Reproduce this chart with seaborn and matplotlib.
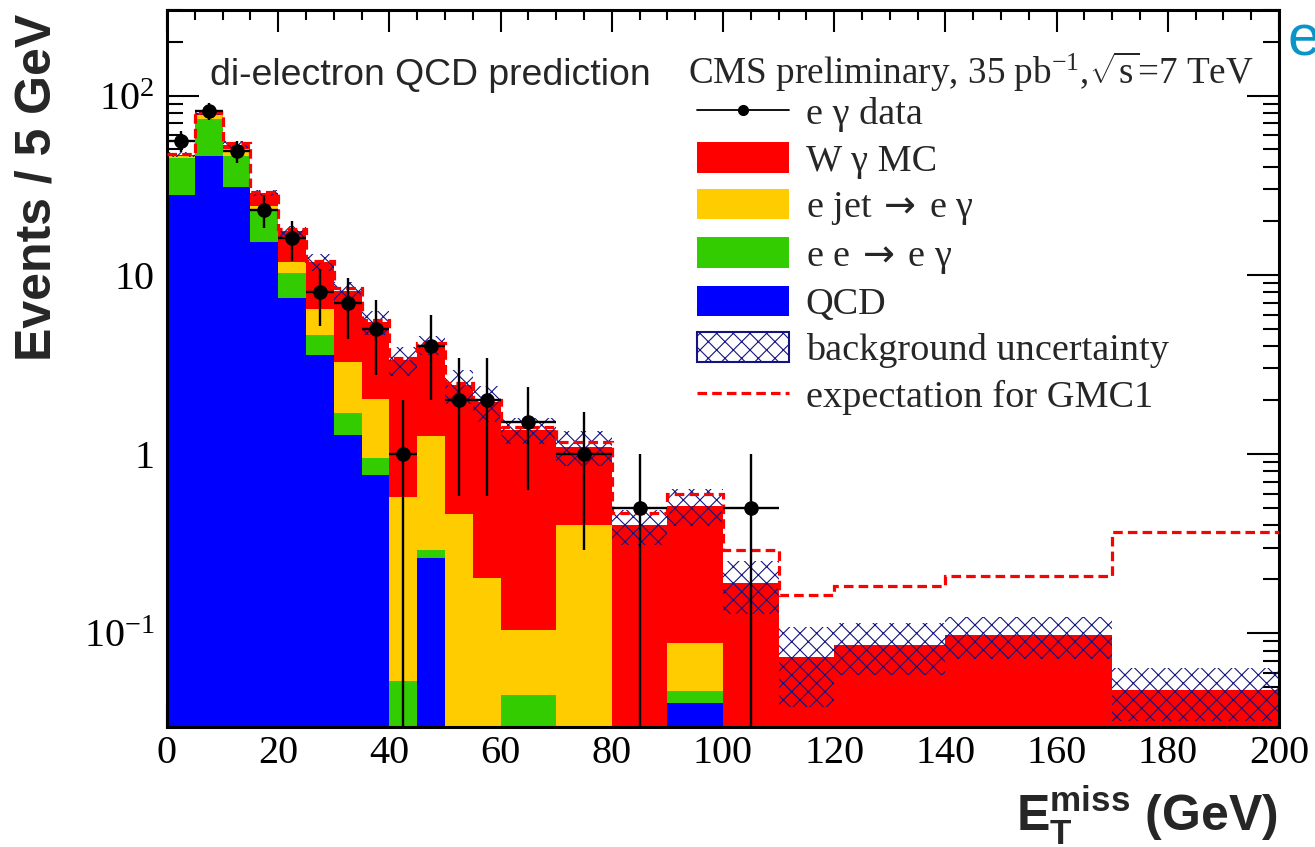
import numpy as np
import pandas as pd
import matplotlib
matplotlib.use("Agg")
import matplotlib.pyplot as plt
from matplotlib.patches import Patch
from matplotlib.lines import Line2D
from matplotlib.ticker import MultipleLocator, FixedLocator, FixedFormatter, LogLocator, NullFormatter
import seaborn as sns

# ---- binning (GeV) ----
edges = [0, 5, 10, 15, 20, 25, 30, 35, 40, 45, 50, 55, 60, 70, 80, 90, 100, 110, 120, 140, 170, 200]

# ---- background components, events / 5 GeV ----
qcd = [28, 46, 31, 15.2, 7.4, 3.56, 1.28, 0.76, 0, 0.264, 0, 0, 0, 0, 0, 0.041, 0, 0, 0, 0, 0]
ee_to_eg = [17, 27.5, 15, 7.4, 2.8, 1.08, 0.41, 0.19, 0.054, 0.028, 0, 0, 0.045, 0, 0, 0.0068, 0, 0, 0, 0, 0]
ejet_to_eg = [1.0, 4.0, 4.5, 1.6, 1.6, 1.8, 1.58, 1.09, 0.52, 0.97, 0.463, 0.203, 0.059, 0.40, 0, 0.040, 0, 0, 0, 0, 0]
wgamma = [0.8, 2.5, 2.7, 4.4, 5.7, 5.3, 4.9, 3.4, 2.76, 2.79, 1.96, 1.75, 1.26, 0.70, 0.40, 0.427, 0.19, 0.0736, 0.0863, 0.098, 0.0484]

# absolute background uncertainty per bin
bkg_unc = [1.5, 2.0, 2.5, 1.2, 1.2, 1.3, 1.0, 0.8, 0.6, 0.5, 0.53, 0.45, 0.23, 0.24, 0.09, 0.12, 0.062, 0.035, 0.028, 0.026, 0.016]

# signal + background expectation for the GMC1 point
gmc1 = [47, 81, 54, 29, 18, 12, 8.4, 5.6, 3.45, 4.15, 2.5, 2.0, 1.42, 1.17, 0.47, 0.60, 0.29, 0.164, 0.184, 0.209, 0.367]

# observed e-gamma events / 5 GeV
data_y = [56, 82, 49, 23, 16, 8, 7, 5, 1, 4, 2, 2, 1.5, 1, 0.5, 0, 0.5, 0, 0, 0, 0]

ARROW = r"$\;\mathsf{\rightarrow}\;$"
process_names = ["W γ MC", "e jet" + ARROW + "e γ", "e e" + ARROW + "e γ", "QCD"]
process_colors = ["#ff0000", "#ffcc00", "#33cc00", "#0000ff"]

xticks = [0, 20, 40, 60, 80, 100, 120, 140, 160, 180, 200]
yticks = [0.1, 1, 10, 100]
ytick_labels = [r"$\mathregular{10^{-1}}$", "1", "10", r"$\mathregular{10^{2}}$"]

# ---- style ----
sns.set_style("ticks")
plt.rcParams["font.family"] = ["Liberation Serif", "DejaVu Serif"]
plt.rcParams["mathtext.fontset"] = "custom"
plt.rcParams["mathtext.rm"] = "Liberation Serif"
plt.rcParams["mathtext.it"] = "Liberation Serif:italic"
plt.rcParams["mathtext.bf"] = "Liberation Sans:bold"
plt.rcParams["mathtext.sf"] = "DejaVu Sans"
plt.rcParams["hatch.linewidth"] = 0.8

SANS = ["Liberation Sans", "DejaVu Sans"]
SERIF = ["Liberation Serif", "DejaVu Serif"]

W, H = 1315, 847
fig = plt.figure(figsize=(W / 100, H / 100), dpi=100)
ax = fig.add_axes([167 / W, 1 - 727 / H, (1279 - 167) / W, (727 - 10) / H])

edges_a = np.array(edges, dtype=float)
centers = 0.5 * (edges_a[:-1] + edges_a[1:])
widths = np.diff(edges_a)

# ---- stacked backgrounds ----
comp = dict(zip(process_names, [wgamma, ejet_to_eg, ee_to_eg, qcd]))
rows = []
for name, vals in comp.items():
    for c, v in zip(centers, vals):
        rows.append({"met": c, "events": v, "process": name})
df = pd.DataFrame(rows)

sns.histplot(data=df, x="met", weights="events", hue="process", hue_order=process_names,
             palette=dict(zip(process_names, process_colors)), bins=edges, multiple="stack",
             stat="count", element="bars", linewidth=0, alpha=1.0, antialiased=False,
             legend=False, ax=ax, zorder=1)

total = np.array(qcd) + np.array(ee_to_eg) + np.array(ejet_to_eg) + np.array(wgamma)
unc = np.array(bkg_unc)

# uncertainty band
ax.bar(edges_a[:-1], 2 * unc, width=widths, bottom=total - unc, align="edge",
       fill=False, hatch="xx", edgecolor="#141480", linewidth=0, zorder=2)

# GMC1 expectation
ax.stairs(gmc1, edges_a, baseline=None, color="#ff0000", linewidth=2.3,
          linestyle=(0, (3, 1.6)), zorder=3)

# data points with statistical errors
dy = np.array(data_y, dtype=float)
m = dy > 0
err = np.sqrt(dy * 5.0 / widths)
err_lo = np.minimum(err, dy - 1e-4)
ax.errorbar(centers[m], dy[m], xerr=widths[m] / 2, yerr=[err_lo[m], err[m]],
            fmt="o", color="black", ms=9.5, elinewidth=1.7, capsize=0, zorder=4)

# ---- axes ----
ax.set_xlim(0, 200)
ax.set_yscale("log")
ax.set_ylim(0.03, 300)
ax.xaxis.set_major_locator(FixedLocator(xticks))
ax.xaxis.set_minor_locator(MultipleLocator(5))
ax.yaxis.set_major_locator(FixedLocator(yticks))
ax.yaxis.set_major_formatter(FixedFormatter(ytick_labels))
ax.yaxis.set_minor_locator(LogLocator(base=10, subs=np.arange(2, 10)))
ax.yaxis.set_minor_formatter(NullFormatter())
ax.tick_params(which="both", direction="in", top=True, right=True, width=1.5, colors="black")
ax.tick_params(axis="x", which="major", length=16, pad=6, labelsize=29)
ax.tick_params(axis="x", which="minor", length=7.5)
ax.tick_params(axis="y", which="major", length=23, pad=9, labelsize=29)
ax.tick_params(axis="y", which="minor", length=11.5)
for lab in ax.get_xticklabels() + ax.get_yticklabels():
    lab.set_family(SERIF)
for s in ax.spines.values():
    s.set_linewidth(2.2)
    s.set_color("black")
ax.set_xlabel("")
ax.set_ylabel("")

fig.text(38 / W, 1 - 14 / H, "Events / 5 GeV", rotation=90, ha="center", va="top",
         fontsize=36, fontweight="bold", family=SANS)
fig.text(1278 / W, 1 - 832 / H, r"$\mathbf{E_{T}^{miss}}$ (GeV)", ha="right", va="baseline",
         fontsize=36, fontweight="bold", family=SANS)

fig.text(210 / W, 1 - 85 / H, "di-electron QCD prediction",
         ha="left", va="baseline", fontsize=26.9, family=SANS)
fig.text(688 / W, 1 - 84 / H, r"CMS preliminary, 35 pb$^{\mathregular{-1}}$,$\sqrt{\mathregular{s}}$=7 TeV",
         ha="left", va="baseline", fontsize=26.7, family=SERIF)

# cut-off heading glyph at the right border
fig.text(1288 / W, 1 - 56 / H, "e", ha="left", va="baseline", fontsize=42,
         color="#0a94c8", family=SANS)

# ---- legend ----
handles = [
    Line2D([], [], color="black", marker="o", ms=7, lw=1.3),
    Patch(facecolor=process_colors[0], edgecolor="none"),
    Patch(facecolor=process_colors[1], edgecolor="none"),
    Patch(facecolor=process_colors[2], edgecolor="none"),
    Patch(facecolor=process_colors[3], edgecolor="none"),
    Patch(facecolor="white", edgecolor="#141480", hatch="xx", linewidth=1.5),
    Line2D([], [], color="#ff0000", lw=2.3, linestyle=(0, (3, 1.6))),
]
labels = ["e γ data"] + process_names + ["background uncertainty", "expectation for GMC1"]
leg = ax.legend(handles, labels, loc="upper left", bbox_to_anchor=(697 / W, 1 - 96 / H),
                bbox_transform=fig.transFigure, frameon=False, borderpad=0, borderaxespad=0,
                handlelength=2.4, handleheight=0.85, handletextpad=0.45, labelspacing=0.26,
                prop={"family": SERIF, "size": 27.5})

fig.savefig("out.png", dpi=100)
